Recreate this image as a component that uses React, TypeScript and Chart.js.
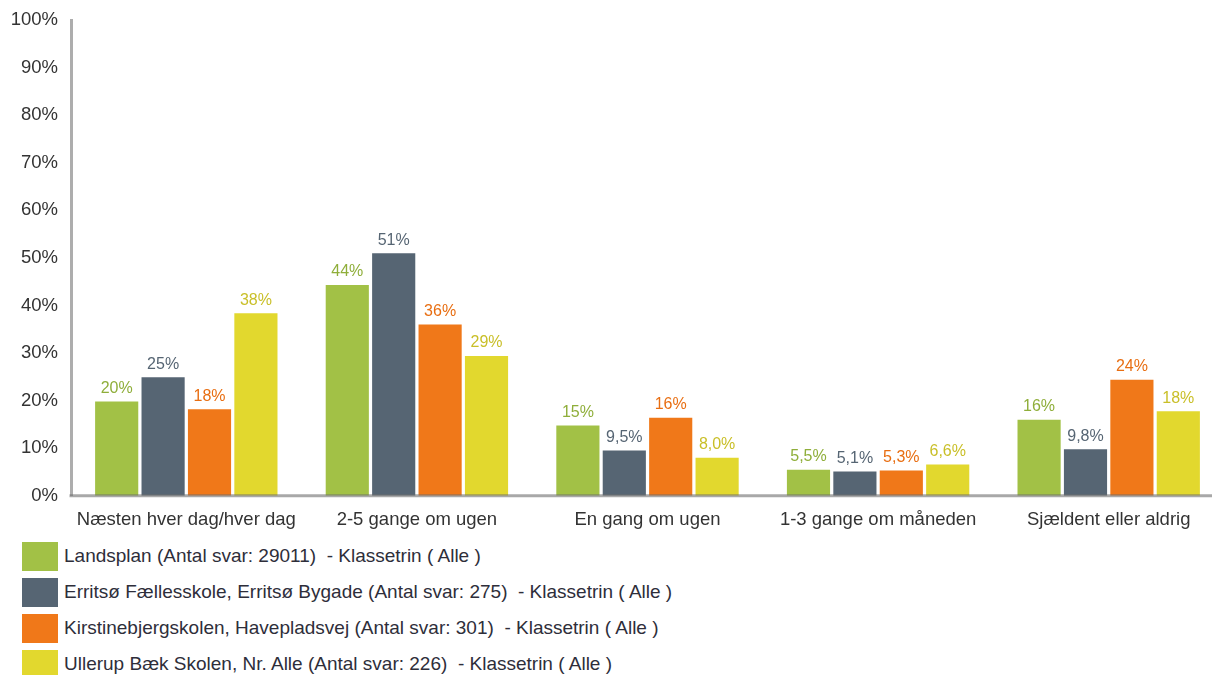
import React, { useEffect, useRef } from "react";
import { Chart, registerables } from "chart.js";

Chart.register(...registerables);

const categories = [
  "Næsten hver dag/hver dag",
  "2-5 gange om ugen",
  "En gang om ugen",
  "1-3 gange om måneden",
  "Sjældent eller aldrig",
];
const seriesNames = [
  "Landsplan (Antal svar: 29011)  - Klassetrin ( Alle )",
  "Erritsø Fællesskole, Erritsø Bygade (Antal svar: 275)  - Klassetrin ( Alle )",
  "Kirstinebjergskolen, Havepladsvej (Antal svar: 301)  - Klassetrin ( Alle )",
  "Ullerup Bæk Skolen, Nr. Alle (Antal svar: 226)  - Klassetrin ( Alle )",
];
const landsplan = [19.8, 44.3, 14.8, 5.5, 16.0];
const erritso = [24.9, 51.0, 9.5, 5.1, 9.8];
const kirstine = [18.2, 36.0, 16.4, 5.3, 24.4];
const ullerup = [38.4, 29.4, 8.0, 6.6, 17.8];
const yTicks = [0, 10, 20, 30, 40, 50, 60, 70, 80, 90, 100];

const barColors = ["#A2C146", "#566573", "#F07819", "#E2D82E"];
const labelColors = ["#8FAE3A", "#566573", "#E86E12", "#C9BF28"];
const FONT = "'Liberation Sans', Arial, Helvetica, sans-serif";

const fmt = (v: number) =>
  v >= 10 ? Math.round(v) + "%" : v.toFixed(1).replace(".", ",") + "%";

const overlayPlugin = {
  id: "overlay",
  afterDatasetsDraw(chart: any) {
    const { ctx, chartArea } = chart;
    const y0 = chart.scales.y.getPixelForValue(0);
    ctx.save();
    ctx.strokeStyle = "rgba(110,110,110,0.6)";
    ctx.lineWidth = 3;
    ctx.beginPath();
    ctx.moveTo(chartArea.left - 1.5, y0);
    ctx.lineTo(chart.width, y0);
    ctx.stroke();
    ctx.font = "16px " + FONT;
    ctx.textAlign = "center";
    ctx.textBaseline = "middle";
    chart.data.datasets.forEach((ds: any, di: number) => {
      const meta = chart.getDatasetMeta(di);
      meta.data.forEach((bar: any, i: number) => {
        ctx.fillStyle = labelColors[di];
        ctx.fillText(fmt(ds.data[i]), bar.x, bar.y - 13);
      });
    });
    ctx.restore();
  },
};

function ChartView() {
  const ref = useRef<HTMLCanvasElement | null>(null);
  useEffect(() => {
    if (!ref.current) return;
    const all = [landsplan, erritso, kirstine, ullerup];
    const chart = new Chart(ref.current, {
      type: "bar",
      data: {
        labels: categories,
        datasets: all.map((d, i) => ({
          label: seriesNames[i],
          data: d,
          backgroundColor: barColors[i],
          borderWidth: 0,
          barPercentage: 0.93,
          categoryPercentage: 0.805,
        })),
      },
      options: {
        animation: false,
        responsive: true,
        maintainAspectRatio: false,
        layout: { padding: { top: 0, right: 0, left: 0, bottom: 0 } },
        plugins: {
          legend: { display: false },
          tooltip: { enabled: false },
        },
        scales: {
          x: {
            grid: { display: false, drawTicks: false },
            border: { display: false },
            ticks: {
              color: "#333",
              font: { family: FONT, size: 18.5 },
              padding: 13,
              maxRotation: 0,
            },
          },
          y: {
            min: 0,
            max: 100,
            afterBuildTicks: (s: any) => {
              s.ticks = yTicks.map((v) => ({ value: v }));
            },
            afterFit: (s: any) => {
              s.width = 63;
            },
            grid: { display: false, drawTicks: false },
            border: { display: true, color: "#ADADAD", width: 3 },
            ticks: {
              color: "#333",
              font: { family: FONT, size: 18.5 },
              padding: 13,
              callback: (v: any) => v + "%",
            },
          },
        },
      },
      plugins: [overlayPlugin],
    });
    return () => chart.destroy();
  }, []);
  return (
    <div style={{ width: 1212, overflow: "hidden", marginTop: -12 }}>
      <div style={{ position: "relative", width: 1216, height: 548 }}>
        <canvas ref={ref} />
      </div>
    </div>
  );
}

export default function App() {
  return (
    <div style={{ fontFamily: FONT }}>
      <ChartView />
      <div style={{ marginTop: -6, marginLeft: 14 }}>
        {seriesNames.map((n, i) => (
          <div
            key={i}
            style={{ display: "flex", alignItems: "center", height: 36 }}
          >
            <div
              style={{
                width: 36,
                height: 29,
                background: barColors[i],
                marginRight: 6,
              }}
            />
            <span style={{ fontSize: 19, color: "#2E2E3A", whiteSpace: "pre" }}>
              {n}
            </span>
          </div>
        ))}
      </div>
    </div>
  );
}
